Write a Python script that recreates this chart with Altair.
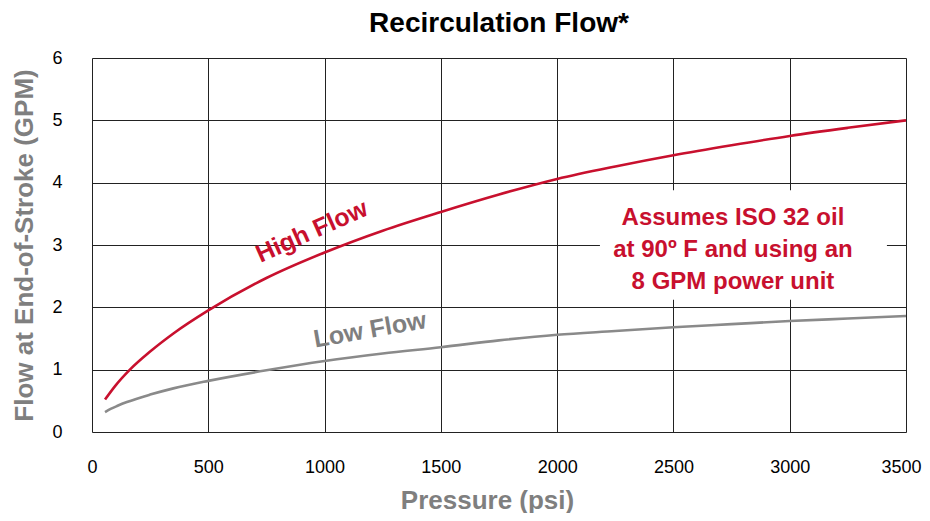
import altair as alt
import pandas as pd

FONT = "Liberation Sans"
RED = "#c8102e"
GRAY_LINE = "#8a8a8a"
GRAY_TEXT = "#7f7f7f"

# High Flow curve (psi, GPM)
high_psi = [56, 100, 163, 250, 350, 500, 750, 1000, 1250, 1500, 1750, 2000, 2250, 2500, 2750, 3000, 3250, 3500]
high_gpm = [0.52, 0.74, 1.0, 1.29, 1.58, 1.95, 2.47, 2.88, 3.23, 3.53, 3.81, 4.06, 4.26, 4.44, 4.60, 4.75, 4.88, 5.0]

# Low Flow curve (psi, GPM)
low_psi = [56, 80, 110, 150, 250, 350, 500, 750, 1000, 1250, 1500, 1750, 2000, 2250, 2500, 2750, 3000, 3250, 3500]
low_gpm = [0.32, 0.37, 0.42, 0.48, 0.60, 0.70, 0.82, 0.99, 1.14, 1.26, 1.36, 1.47, 1.56, 1.62, 1.68, 1.73, 1.78, 1.82, 1.86]

x_ticks = [0, 500, 1000, 1500, 2000, 2500, 3000, 3500]
y_ticks = [0, 1, 2, 3, 4, 5, 6]

# Curve labels
label_text = ["High Flow", "Low Flow"]
label_psi = [945, 1195]
label_gpm = [3.22, 1.64]
label_angle = [336, 350]
label_color = [RED, GRAY_TEXT]

# Note box (anchor is the first line)
note_text = "Assumes ISO 32 oil\nat 90º F and using an\n8 GPM power unit"
note_psi = 2756
note_gpm = 3.43
box_psi = [2184, 3418]
box_gpm = [2.12, 3.88]

df = pd.concat([
    pd.DataFrame({"psi": high_psi, "gpm": high_gpm, "series": "High Flow"}),
    pd.DataFrame({"psi": low_psi, "gpm": low_gpm, "series": "Low Flow"}),
])

xs = alt.Scale(domain=[0, 3500], nice=False, zero=True)
ys = alt.Scale(domain=[0, 6], nice=False, zero=True)

x_axis = alt.Axis(values=x_ticks, format="d", grid=True, gridColor="#222222", gridWidth=1, ticks=False,
                  domain=False, labelFontSize=18, labelFont=FONT, labelColor="black",
                  labelPadding=26, labelFlush=False,
                  labelAlign=alt.condition("datum.value == 3500", alt.value("right"), alt.value("center")),
                  labelOffset=alt.condition("datum.value == 3500", alt.value(15), alt.value(0)),
                  title="Pressure (psi)", titleFont=FONT,
                  titleFontSize=26, titleFontWeight="bold", titleColor=GRAY_TEXT,
                  titlePadding=11, titleX=395)
y_axis = alt.Axis(values=y_ticks, format="d", grid=True, gridColor="#222222", gridWidth=1, ticks=False,
                  domain=False, labelFontSize=18, labelFont=FONT, labelColor="black",
                  labelPadding=30, labelFlush=False, title="Flow at End-of-Stroke (GPM)",
                  titleFont=FONT, titleFontSize=26, titleFontWeight="bold",
                  titleColor=GRAY_TEXT, titlePadding=14)

lines = alt.Chart(df).mark_line(strokeWidth=2.6, interpolate="monotone").encode(
    x=alt.X("psi:Q", scale=xs, axis=x_axis),
    y=alt.Y("gpm:Q", scale=ys, axis=y_axis),
    color=alt.Color("series:N", scale=alt.Scale(domain=["High Flow", "Low Flow"],
                                                range=[RED, GRAY_LINE]), legend=None),
)

box = alt.Chart(pd.DataFrame({"x1": [box_psi[0]], "x2": [box_psi[1]],
                              "y1": [box_gpm[0]], "y2": [box_gpm[1]]})).mark_rect(
    color="white").encode(
    x=alt.X("x1:Q", scale=xs), x2="x2:Q",
    y=alt.Y("y1:Q", scale=ys), y2="y2:Q",
)

note = alt.Chart(pd.DataFrame({"psi": [note_psi], "gpm": [note_gpm], "t": [note_text]})).mark_text(
    font=FONT, fontSize=24, fontWeight="bold", color=RED, align="center",
    baseline="middle", lineBreak="\n", lineHeight=32).encode(
    x=alt.X("psi:Q", scale=xs), y=alt.Y("gpm:Q", scale=ys), text="t:N")

labels_df = pd.DataFrame({"psi": label_psi, "gpm": label_gpm, "t": label_text,
                          "angle": label_angle, "c": label_color})
labels = alt.Chart(labels_df).mark_text(font=FONT, fontSize=25, fontWeight="bold",
                                        align="center", baseline="middle").encode(
    x=alt.X("psi:Q", scale=xs), y=alt.Y("gpm:Q", scale=ys), text="t:N",
    angle=alt.Angle("angle:Q", scale=None), color=alt.Color("c:N", scale=None),
)

chart = alt.layer(box, lines, note, labels).properties(
    width=814, height=374,
    title=alt.TitleParams("Recirculation Flow*", font=FONT, fontSize=28, fontWeight="bold",
                          color="black", anchor="middle", offset=11),
    autosize=alt.AutoSizeParams(type="none"),
    padding={"left": 84, "top": 50, "right": 16, "bottom": 81},
).configure_view(stroke="#666666", strokeWidth=1.5).configure(background="white")

chart.save("out.html", embed_options={"renderer": "svg", "actions": False})
